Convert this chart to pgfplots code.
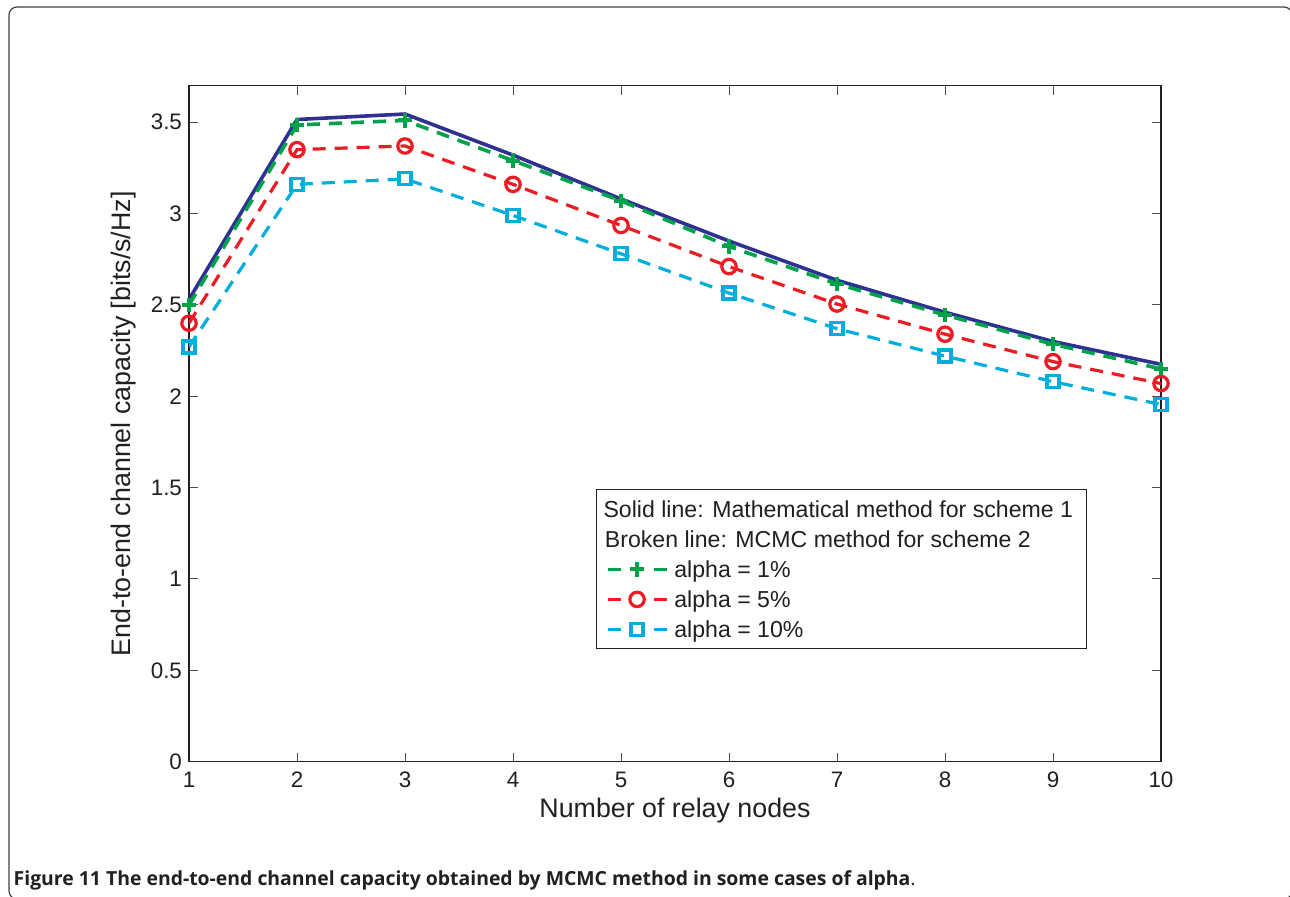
\documentclass[border=0pt]{standalone}
\usepackage{fontspec}
\setmainfont{Liberation Sans}
\newfontfamily\capfont{Open Sans}
\usepackage{pgfplots}
\pgfplotsset{compat=1.18}
\definecolor{cblue}{RGB}{46,49,146}
\definecolor{cgreen}{RGB}{0,161,75}
\definecolor{cred}{RGB}{237,28,36}
\definecolor{ccyan}{RGB}{0,174,219}
\definecolor{axcol}{RGB}{35,31,32}
\begin{document}
\begin{tikzpicture}
\useasboundingbox (0,0) rectangle (645pt,-448.5pt);
\draw[line width=0.6pt, color=axcol!85, rounded corners=4pt] (4.5pt,-3.5pt) rectangle (646pt,-449.5pt);
\begin{axis}[
  at={(94.5pt,-380.85pt)}, anchor=south west,
  scale only axis, width=486pt, height=338pt,
  xmin=1, xmax=10, ymin=0, ymax=3.7,
  xtick={1,2,3,4,5,6,7,8,9,10},
  ytick={0,0.5,1,1.5,2,2.5,3,3.5},
  tick align=inside, major tick length=4.5pt,
  axis line style={color=axcol, line width=0.7pt},
  every tick/.style={color=axcol!80, line width=0.5pt},
  /pgf/number format/assume math mode=true,
  tick label style={font=\fontsize{11.2}{13}\selectfont, text=axcol},
  xticklabel style={yshift=-1.5pt},
  xlabel={Number of relay nodes},
  ylabel={End-to-end channel capacity [bits/s/Hz]},
  xlabel style={font=\fontsize{13.4}{16}\selectfont, text=axcol, at={(axis description cs:0.5,-0.0818)}, anchor=base, inner sep=0pt},
  ylabel style={font=\fontsize{13.4}{16}\selectfont, text=axcol, at={(axis description cs:-0.0545,0.5)}, anchor=south, inner sep=0pt, rotate=0},
  legend image code/.code={\draw[mark repeat=2, mark phase=2, #1, dash pattern=on 6.5pt off 16.5pt] plot coordinates {(0pt,0pt) (14.75pt,0pt) (29.5pt,0pt)};},
  legend style={at={(axis description cs:0.4187,0.403)}, anchor=north west,
    draw=axcol, line width=0.6pt, fill=white,
    font=\fontsize{11.55}{14}\selectfont, text=axcol,
    inner xsep=4.6pt, inner ysep=4pt, row sep=3.5pt, column sep=3pt,
    nodes={inner sep=0pt, text height=10pt, text depth=1.5pt},
    cells={anchor=west}},
]
\addlegendimage{empty legend}
\addlegendentry{\hspace*{-35.4pt}Solid line: Mathematical method for scheme 1\hspace*{2pt}}
\addlegendimage{empty legend}
\addlegendentry{\hspace*{-34.7pt}Broken line: MCMC method for scheme 2}

\addplot[forget plot, color=cblue, line width=1.8pt, solid] coordinates {
(1,2.53) (2,3.515) (3,3.545) (4,3.32) (5,3.08) (6,2.85) (7,2.635) (8,2.46) (9,2.30) (10,2.175)};

\addplot[color=cgreen, line width=1.8pt, dash pattern=on 6.5pt off 4.5pt, mark=+, mark size=3.6pt, mark options={solid, line width=2pt}] coordinates {
(1,2.50) (2,3.485) (3,3.51) (4,3.29) (5,3.07) (6,2.82) (7,2.615) (8,2.445) (9,2.285) (10,2.15)};
\addlegendentry{alpha = 1\%}

\addplot[color=cred, line width=1.6pt, dash pattern=on 6.5pt off 4.5pt, mark=o, mark size=3.6pt, mark options={solid, line width=1.6pt}] coordinates {
(1,2.40) (2,3.35) (3,3.37) (4,3.16) (5,2.935) (6,2.71) (7,2.505) (8,2.34) (9,2.19) (10,2.07)};
\addlegendentry{alpha = 5\%}

\addplot[color=ccyan, line width=1.6pt, dash pattern=on 6.5pt off 4.5pt, mark=square, mark size=3pt, mark options={solid, line width=1.6pt}] coordinates {
(1,2.27) (2,3.16) (3,3.19) (4,2.99) (5,2.78) (6,2.565) (7,2.37) (8,2.22) (9,2.08) (10,1.955)};
\addlegendentry{alpha = 10\%}
\end{axis}
\node[anchor=base west, inner sep=0pt, text=axcol, font=\capfont\bfseries\fontsize{9.7}{12}\selectfont] at (6.65pt,-442.5pt) {Figure 11 The end-to-end channel capacity obtained by MCMC method in some cases of alpha{\mdseries.}};
\end{tikzpicture}
\end{document}
